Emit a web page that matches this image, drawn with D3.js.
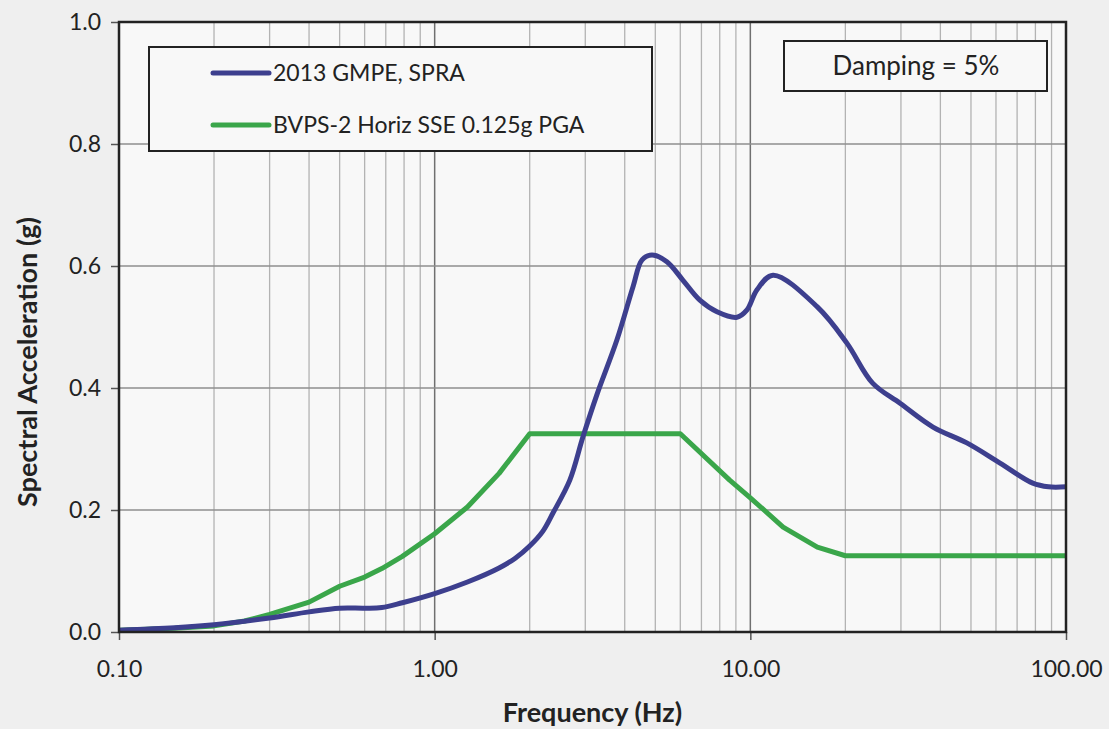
<!DOCTYPE html>
<html>
<head>
<meta charset="utf-8">
<script src="https://cdn.jsdelivr.net/npm/d3@7"></script>
<style>
  body { margin: 0; background: #efefef; }
  svg { display: block; font-family: Lato, "Open Sans", sans-serif; }
</style>
</head>
<body>
<div id="chart"></div>
<script>
// Spectral acceleration (g) versus frequency (Hz), 5% damping
const gmpeFreq = [0.1, 0.15, 0.2, 0.3, 0.4, 0.5, 0.6, 0.68, 0.79, 1.0, 1.27, 1.6, 1.8, 2.0, 2.2, 2.37, 2.68, 2.95, 3.27, 3.78, 4.25, 4.54, 4.88, 5.44, 6.11, 6.92, 7.84, 9.07, 9.76, 10.5, 11.8, 16.3, 20.2, 24.4, 29.8, 37.9, 48.5, 61.8, 78.5, 88, 100];
const gmpeSa = [0.003, 0.007, 0.012, 0.023, 0.033, 0.039, 0.039, 0.040, 0.048, 0.063, 0.082, 0.105, 0.121, 0.141, 0.165, 0.195, 0.249, 0.32, 0.39, 0.479, 0.566, 0.61, 0.618, 0.607, 0.577, 0.544, 0.525, 0.516, 0.528, 0.561, 0.585, 0.533, 0.474, 0.408, 0.375, 0.336, 0.31, 0.277, 0.244, 0.238, 0.238];

const sseFreq = [0.1, 0.15, 0.2, 0.25, 0.3, 0.4, 0.5, 0.6, 0.68, 0.79, 1.0, 1.27, 1.6, 2.0, 6.0, 8.6, 10, 12.7, 16.3, 20, 100];
const sseSa = [0.003, 0.006, 0.010, 0.018, 0.029, 0.049, 0.075, 0.09, 0.104, 0.124, 0.161, 0.205, 0.26, 0.325, 0.325, 0.249, 0.22, 0.172, 0.139, 0.125, 0.125];

const yTicks = [0, 0.2, 0.4, 0.6, 0.8, 1.0];
const xTicks = [0.1, 1, 10, 100];
const seriesNames = ["2013 GMPE, SPRA", "BVPS-2 Horiz SSE 0.125g PGA"];
const seriesColors = ["#3d3f8e", "#3aa64a"];

const width = 1109, height = 729;
const margin = { top: 22, right: 43, bottom: 97, left: 119 };
const innerW = width - margin.left - margin.right;
const innerH = height - margin.top - margin.bottom;

const svg = d3.select("#chart").append("svg")
  .attr("width", width)
  .attr("height", height);

const g = svg.append("g")
  .attr("transform", `translate(${margin.left},${margin.top})`);

const x = d3.scaleLog().domain([0.1, 100]).range([0, innerW]);
const y = d3.scaleLinear().domain([0, 1]).range([innerH, 0]);

// plot area
g.append("rect")
  .attr("width", innerW)
  .attr("height", innerH)
  .attr("fill", "#f8f8f8");

// minor vertical grid (2..9 in each decade)
const minor = [];
[0.1, 1, 10].forEach(d => { for (let k = 2; k <= 9; k++) minor.push(d * k); });
g.selectAll("line.minor")
  .data(minor)
  .join("line")
  .attr("class", "minor")
  .attr("x1", d => x(d)).attr("x2", d => x(d))
  .attr("y1", 0).attr("y2", innerH)
  .attr("stroke", "#b3b3b3")
  .attr("stroke-width", 1.3);

// decade gridlines
g.selectAll("line.major")
  .data(xTicks)
  .join("line")
  .attr("class", "major")
  .attr("x1", d => x(d)).attr("x2", d => x(d))
  .attr("y1", 0).attr("y2", innerH)
  .attr("stroke", "#707070")
  .attr("stroke-width", 1.5);

// horizontal gridlines
g.selectAll("line.hgrid")
  .data(yTicks)
  .join("line")
  .attr("class", "hgrid")
  .attr("x1", 0).attr("x2", innerW)
  .attr("y1", d => y(d)).attr("y2", d => y(d))
  .attr("stroke", "#8f8f8f")
  .attr("stroke-width", 1.5);

// axes
const yAxis = g.append("g")
  .call(d3.axisLeft(y).tickValues(yTicks).tickFormat(d3.format(".1f")).tickSize(8).tickPadding(10));
const xAxis = g.append("g")
  .attr("transform", `translate(0,${innerH})`)
  .call(d3.axisBottom(x).tickValues(xTicks).tickFormat(d3.format(".2f")).tickSize(8).tickPadding(21));
[yAxis, xAxis].forEach(a => {
  a.select(".domain").remove();
  a.selectAll(".tick line").attr("stroke", "#555").attr("stroke-width", 1.5);
  a.selectAll("text").attr("font-size", 23).attr("fill", "#222").attr("font-family", "Lato, sans-serif");
});

// data lines
const lineGen = d3.line()
  .x(d => x(d[0]))
  .y(d => y(d[1]));

g.append("path")
  .datum(sseFreq.map((f, i) => [f, sseSa[i]]))
  .attr("fill", "none")
  .attr("stroke", seriesColors[1])
  .attr("stroke-width", 5)
  .attr("stroke-linejoin", "round")
  .attr("d", lineGen.curve(d3.curveLinear));

g.append("path")
  .datum(gmpeFreq.map((f, i) => [f, gmpeSa[i]]))
  .attr("fill", "none")
  .attr("stroke", seriesColors[0])
  .attr("stroke-width", 5)
  .attr("stroke-linejoin", "round")
  .attr("d", lineGen.curve(d3.curveCatmullRom.alpha(0.5)));

// frame
g.append("rect")
  .attr("width", innerW)
  .attr("height", innerH)
  .attr("fill", "none")
  .attr("stroke", "#222")
  .attr("stroke-width", 2.5);

// legend
const legend = svg.append("g");
legend.append("rect")
  .attr("x", 149).attr("y", 47)
  .attr("width", 503).attr("height", 104)
  .attr("fill", "#f8f8f8")
  .attr("stroke", "#222")
  .attr("stroke-width", 2);
seriesNames.forEach((name, i) => {
  const ly = 73 + i * 52;
  legend.append("line")
    .attr("x1", 213).attr("x2", 269)
    .attr("y1", ly).attr("y2", ly)
    .attr("stroke", seriesColors[i])
    .attr("stroke-width", 5)
    .attr("stroke-linecap", "round");
  legend.append("text")
    .attr("x", 273).attr("y", ly + 8)
    .attr("font-size", 23)
    .attr("fill", "#222")
    .text(name);
});

// damping box
const damp = svg.append("g");
damp.append("rect")
  .attr("x", 784).attr("y", 41)
  .attr("width", 263).attr("height", 50)
  .attr("fill", "#f8f8f8")
  .attr("stroke", "#222")
  .attr("stroke-width", 2);
damp.append("text")
  .attr("x", 916).attr("y", 75)
  .attr("text-anchor", "middle")
  .attr("font-size", 26)
  .attr("fill", "#222")
  .text("Damping = 5%");

// axis titles
svg.append("text")
  .attr("x", margin.left + innerW / 2)
  .attr("y", 722)
  .attr("text-anchor", "middle")
  .attr("font-size", 27)
  .attr("font-weight", "bold")
  .attr("fill", "#222")
  .text("Frequency (Hz)");

svg.append("text")
  .attr("transform", "translate(37,362) rotate(-90)")
  .attr("text-anchor", "middle")
  .attr("font-size", 27)
  .attr("font-weight", "bold")
  .attr("fill", "#222")
  .text("Spectral Acceleration (g)");
</script>
</body>
</html>
